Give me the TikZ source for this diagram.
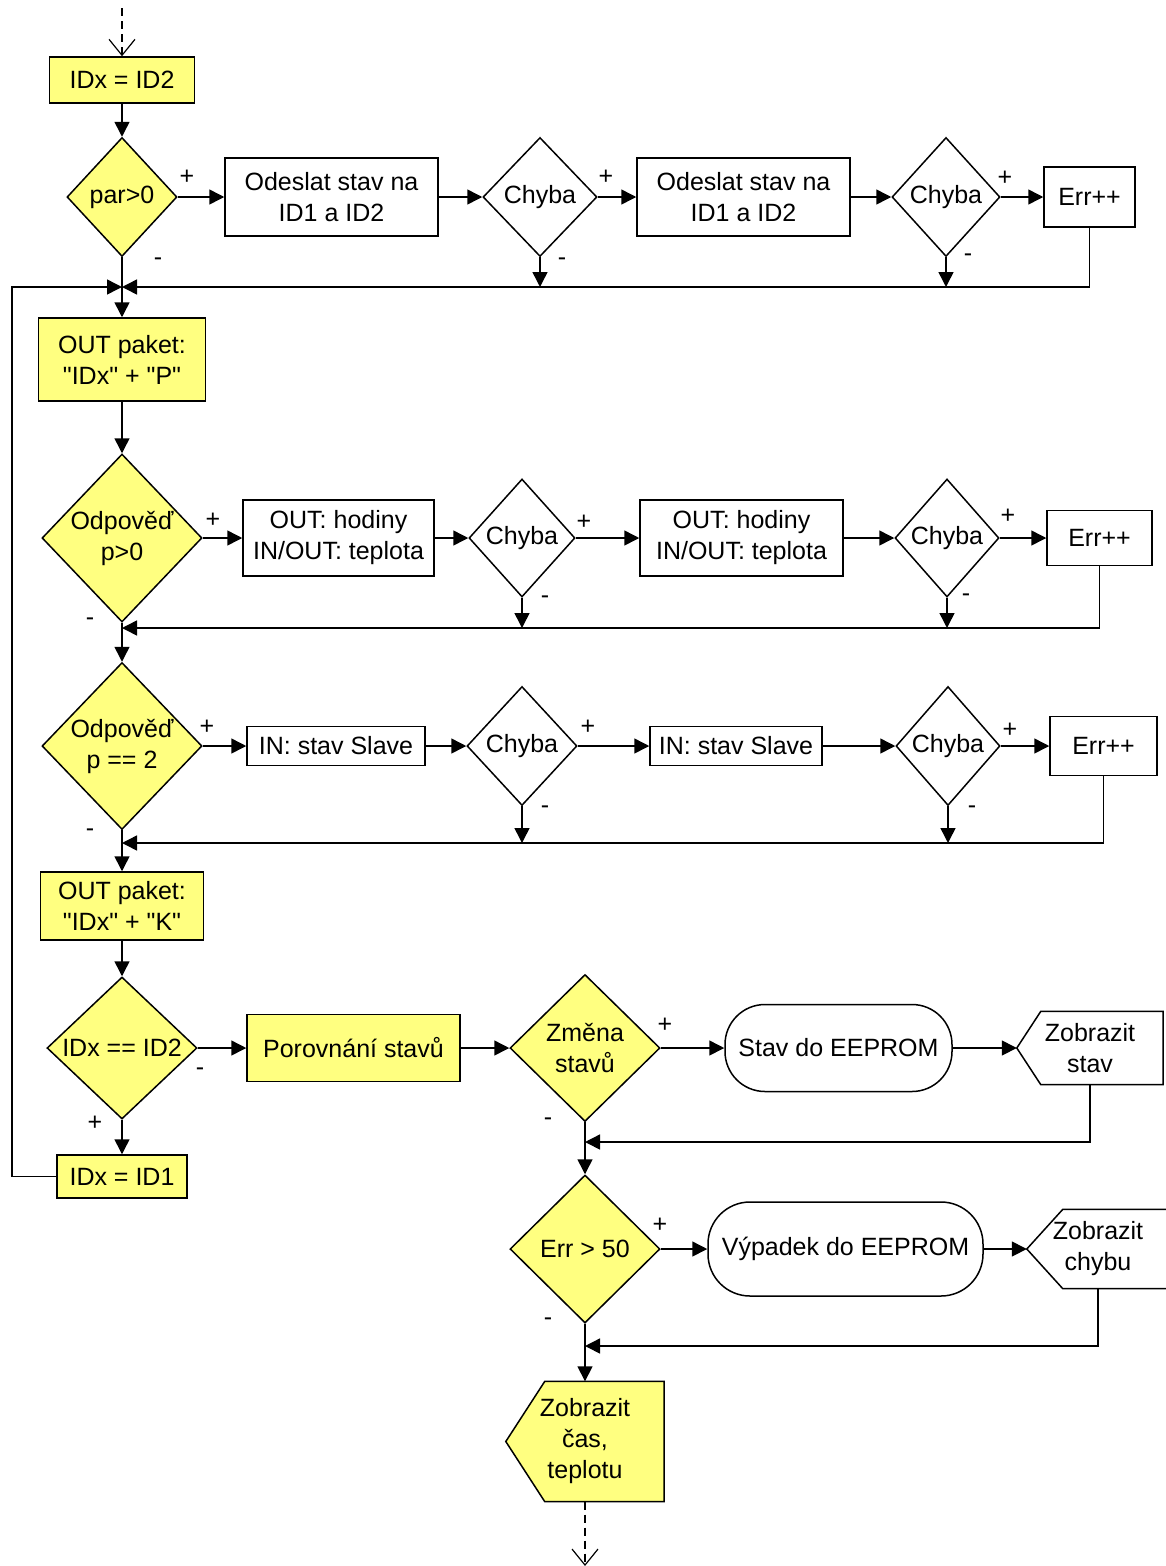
\documentclass[tikz,border=0pt]{standalone}
\usepackage{fontspec}
\setmainfont{Liberation Sans}[Ligatures=TeXOff]
\usetikzlibrary{arrows.meta,shapes.geometric,backgrounds,calc}
\definecolor{flowyellow}{RGB}{255,255,128}
\newcommand\chartfont{\fontsize{25}{31}\selectfont}
% outline of a "display" block: pointed left side, square right side
\newcommand\displayoutline[3]{%
  \begin{pgfonlayer}{background}
    \draw[line width=1.5pt, fill=#3] ($(#1.north west)+(#2,0)$) -- (#1.north east)
      -- (#1.south east) -- ($(#1.south west)+(#2,0)$) -- (#1.west) -- cycle;
  \end{pgfonlayer}}

\begin{document}
\begin{tikzpicture}[x=1pt,y=-1pt,
  every node/.style={font=\chartfont, align=center, inner sep=0pt},
  sz/.style 2 args={minimum width=#1pt, minimum height=#2pt},
  proc/.style={draw, line width=1.5pt, fill=white},
  yproc/.style={proc, fill=flowyellow},
  decision/.style={diamond, draw, line width=1.5pt, fill=white},
  ydecision/.style={decision, fill=flowyellow},
  terminal/.style={draw, line width=1.5pt, fill=white, rounded corners=#1pt},
  flow/.style={line width=1.5pt, -{Triangle[length=15pt,width=15pt]}},
  link/.style={line width=1.5pt},
  openflow/.style={line width=1.2pt, dash pattern=on 8pt off 5pt,
    -{Straight Barb[length=16pt,width=26pt]}},
  sign/.style={font=\chartfont}
]
\useasboundingbox (0,0) rectangle (1165,1566);

% ---------- coordinates of joins and ends ----------
\coordinate (top) at (122,8);
\coordinate (j1) at (122,287);
\coordinate (j2) at (122,628);
\coordinate (j3) at (122,843);
\coordinate (j4) at (585,1142);
\coordinate (j5) at (585,1346);
\coordinate (lane) at (12,287);
\coordinate (bottom) at (585,1566);

% ---------- row 1 ----------
\node[yproc, sz={145}{46}] (id2) at (122,80) {IDx = ID2};
\node[ydecision, sz={110}{119}] (par) at (122,197) {par>0};
\node[proc, sz={213}{78}] (ods1) at (331.5,197) {Odeslat stav na\\ID1 a ID2};
\node[decision, sz={114}{119}] (ch1) at (540,197) {Chyba};
\node[proc, sz={213}{78}] (ods2) at (743.5,197) {Odeslat stav na\\ID1 a ID2};
\node[decision, sz={108}{119}] (ch2) at (946,197) {Chyba};
\node[proc, sz={91}{60}] (err1) at (1089.5,197) {Err++};

% ---------- row 2 ----------
\node[yproc, sz={167}{83}] (out1) at (122,359.5) {OUT paket:\\"IDx" + "P"};
\node[ydecision, sz={160}{168}] (odp1) at (122,538) {Odpověď\\p>0};
\node[proc, sz={191}{76}] (hod1) at (338.5,538) {OUT: hodiny\\IN/OUT: teplota};
\node[decision, sz={106}{118}] (ch3) at (522,538) {Chyba};
\node[proc, sz={203}{76}] (hod2) at (741.5,538) {OUT: hodiny\\IN/OUT: teplota};
\node[decision, sz={104}{118}] (ch4) at (947,538) {Chyba};
\node[proc, sz={105}{55}] (err2) at (1099.5,538) {Err++};

% ---------- row 3 ----------
\node[ydecision, sz={160}{167}] (odp2) at (122,746) {Odpověď\\p == 2};
\node[proc, sz={178}{39}] (in1) at (336,746) {IN: stav Slave};
\node[decision, sz={110}{119}] (ch5) at (522,746) {Chyba};
\node[proc, sz={172}{39}] (in2) at (736,746) {IN: stav Slave};
\node[decision, sz={104}{119}] (ch6) at (948,746) {Chyba};
\node[proc, sz={107}{59}] (err3) at (1103.5,746) {Err++};

% ---------- lower part ----------
\node[yproc, sz={163}{68}] (out2) at (122,906) {OUT paket:\\"IDx" + "K"};
\node[ydecision, sz={150}{142}] (idx) at (122,1048) {IDx == ID2};
\node[yproc, sz={130}{43}] (idx1) at (122,1176.5) {IDx = ID1};
\node[yproc, sz={213}{67}] (por) at (353.5,1048) {Porovnání stavů};
\node[ydecision, sz={150}{147}] (zm) at (585,1048) {Změna\\stavů};
\node[terminal=40, sz={227}{87}] (stav) at (838.5,1048) {Stav do EEPROM};
\node[sz={146}{73}] (zst) at (1090,1048) {Zobrazit\\stav};
\displayoutline{zst}{24}{white}
\node[ydecision, sz={150}{148}] (err50) at (585,1249) {Err > 50};
\node[terminal=42, sz={275}{94}] (vyp) at (845.5,1249) {Výpadek do EEPROM};
\node[sz={142}{79}] (zch) at (1098,1249) {Zobrazit\\chybu};
\displayoutline{zch}{36}{white}
\node[sz={158}{120}] (zcas) at (585,1441.5) {Zobrazit\\čas,\\teplotu};
\displayoutline{zcas}{39}{flowyellow}

% ---------- branch signs ----------
\node[sign] (pp) at (187,177) {+};
\node[sign] (pm) at (158,262) {-};
\node[sign] (c1p) at (606,177) {+};
\node[sign] (c1m) at (562,262) {-};
\node[sign] (c2p) at (1005,178) {+};
\node[sign] (c2m) at (968,258) {-};
\node[sign] (o1p) at (213,520) {+};
\node[sign] (o1m) at (90,622) {-};
\node[sign] (c3p) at (584,522) {+};
\node[sign] (c3m) at (545,600) {-};
\node[sign] (c4p) at (1008,516) {+};
\node[sign] (c4m) at (966,598) {-};
\node[sign] (o2p) at (207,727) {+};
\node[sign] (o2m) at (90,833) {-};
\node[sign] (c5p) at (588,727) {+};
\node[sign] (c5m) at (545,810) {-};
\node[sign] (c6p) at (1010,730) {+};
\node[sign] (c6m) at (972,810) {-};
\node[sign] (ixm) at (200,1072) {-};
\node[sign] (ixp) at (95,1123) {+};
\node[sign] (zmp) at (665,1025) {+};
\node[sign] (zmm) at (548,1122) {-};
\node[sign] (e5p) at (660,1225) {+};
\node[sign] (e5m) at (548,1322) {-};

% ---------- connectors ----------
\draw[openflow] (top) -- (id2.north);
\draw[flow] (id2) -- (par);

% row 1
\draw[flow] (par.east) -- (ods1.west);
\draw[flow] (ods1) -- (ch1.west);
\draw[flow] (ch1.east) -- (ods2.west);
\draw[flow] (ods2) -- (ch2.west);
\draw[flow] (ch2.east) -- (err1.west);
\draw[link] (err1.south) |- (ch2.south |- j1);
\draw[flow] (ch2.south |- j1) -- (j1);
\draw[flow] (ch1.south) -- (ch1.south |- j1);
\draw[flow] (ch2.south) -- (ch2.south |- j1);
\draw[flow] (idx1.west) -- (idx1.west -| lane) -- (lane) -- (j1);
\draw[flow] (par.south) -- (out1.north);
\draw[flow] (out1) -- (odp1);

% row 2
\draw[flow] (odp1.east) -- (hod1.west);
\draw[flow] (hod1) -- (ch3.west);
\draw[flow] (ch3.east) -- (hod2.west);
\draw[flow] (hod2) -- (ch4.west);
\draw[flow] (ch4.east) -- (err2.west);
\draw[flow] (err2.south) |- (j2);
\draw[flow] (ch3.south) -- (ch3.south |- j2);
\draw[flow] (ch4.south) -- (ch4.south |- j2);
\draw[flow] (odp1.south) -- (odp2.north);

% row 3
\draw[flow] (odp2.east) -- (in1.west);
\draw[flow] (in1) -- (ch5.west);
\draw[flow] (ch5.east) -- (in2.west);
\draw[flow] (in2) -- (ch6.west);
\draw[flow] (ch6.east) -- (err3.west);
\draw[flow] (err3.south) |- (j3);
\draw[flow] (ch5.south) -- (ch5.south |- j3);
\draw[flow] (ch6.south) -- (ch6.south |- j3);
\draw[flow] (odp2.south) -- (out2.north);

% lower part
\draw[flow] (out2) -- (idx);
\draw[flow] (idx.east) -- (por.west);
\draw[flow] (idx.south) -- (idx1.north);
\draw[flow] (por) -- (zm.west);
\draw[flow] (zm.east) -- (stav.west);
\draw[flow] (stav) -- (zst.west);
\draw[flow] (zst.south) |- (j4);
\draw[flow] (zm.south) -- (err50.north);
\draw[flow] (err50.east) -- (vyp.west);
\draw[flow] (vyp) -- (zch.west);
\draw[flow] (zch.south) |- (j5);
\draw[flow] (err50.south) -- (zcas.north);
\draw[openflow] (zcas.south) -- (bottom);
\end{tikzpicture}
\end{document}
